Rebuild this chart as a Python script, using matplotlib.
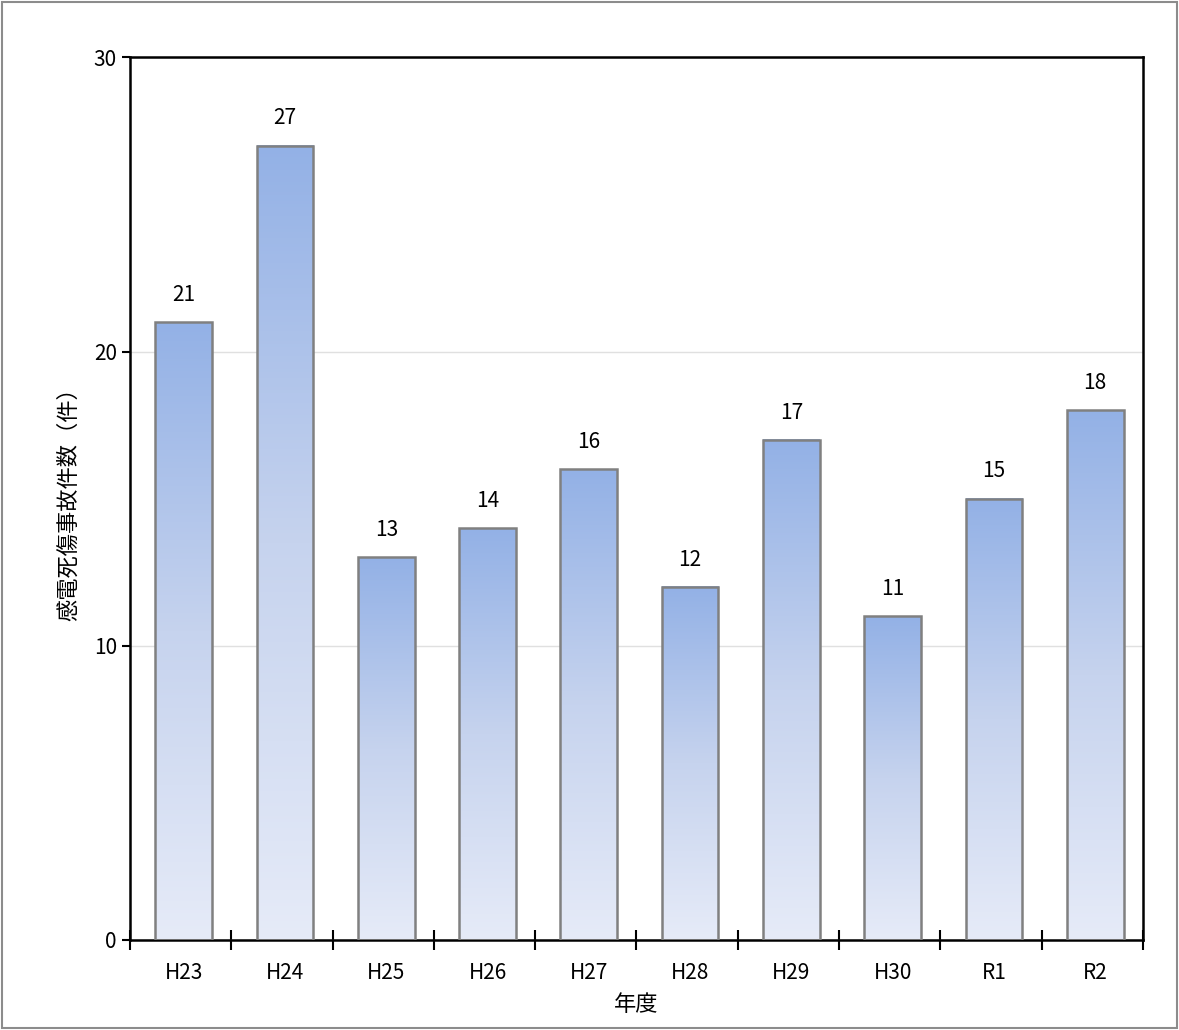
import numpy as np
import matplotlib.pyplot as plt
from matplotlib.colors import LinearSegmentedColormap
from matplotlib.patches import Rectangle

plt.rcParams['font.family'] = ['Noto Sans CJK JP', 'DejaVu Sans']

years = ['H23', 'H24', 'H25', 'H26', 'H27', 'H28', 'H29', 'H30', 'R1', 'R2']
counts = [21, 27, 13, 14, 16, 12, 17, 11, 15, 18]

fig = plt.figure(figsize=(11.79, 10.30), dpi=100)
fig.patches.append(Rectangle((0.002, 0.002), 0.996, 0.996, transform=fig.transFigure,
                             fill=False, edgecolor='#8c8c8c', lw=1.5))
ax = fig.add_axes([0.1103, 0.0874, 0.859, 0.857])

cmap = LinearSegmentedColormap.from_list('g', ['#e6ebf8', '#c6d3ee', '#93b1e6'])
grad = np.linspace(0, 1, 256).reshape(-1, 1)
w = 0.56
x = np.arange(len(years)) + 0.03
ax.bar(x, counts, width=w, facecolor='none', edgecolor='#808080', lw=1.8, zorder=3)
for xi, v in zip(x, counts):
    ax.imshow(grad, cmap=cmap, origin='lower', aspect='auto',
              extent=(xi - w / 2, xi + w / 2, 0, v), zorder=2)
    ax.text(xi, v + 0.55, str(v), ha='center', va='bottom', fontsize=15)

ax.set_xlim(-0.5, len(years) - 0.5)
ax.set_ylim(0, 30)
ax.set_yticks([0, 10, 20, 30])
ax.set_xticks(np.arange(len(years) + 1) - 0.5, minor=False)
ax.set_xticklabels([])
ax.set_xticks(x, minor=True)
ax.set_xticklabels(years, minor=True, fontsize=15)
ax.tick_params(axis='x', which='major', direction='inout', length=14, width=1.5)
ax.tick_params(axis='x', which='minor', length=0, pad=16)
ax.tick_params(axis='y', direction='out', length=6, width=1.5, labelsize=15)
ax.grid(axis='y', color='#e0e0e0', lw=1, zorder=0)
for s in ax.spines.values():
    s.set_linewidth(1.8)
    s.set_color('black')
ax.set_ylabel('感電死傷事故件数（件）', fontsize=16, labelpad=10)
ax.set_xlabel('年度', fontsize=16, labelpad=6)

fig.savefig('out.png')
